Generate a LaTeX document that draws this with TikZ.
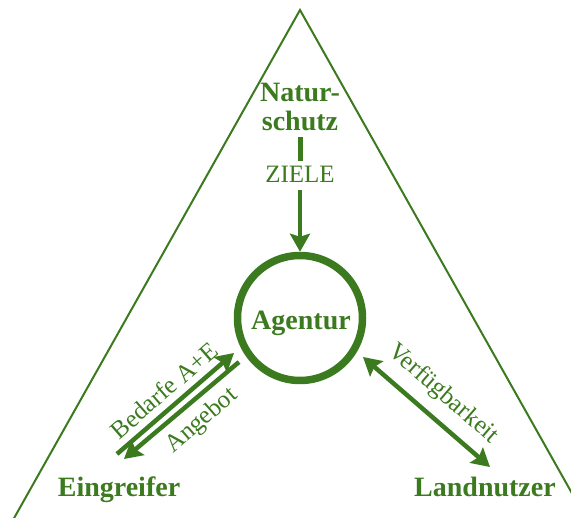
\documentclass[tikz,border=0pt]{standalone}
\usepackage{fontspec}
\setmainfont{Liberation Serif}
\usetikzlibrary{arrows.meta}
\definecolor{gr}{RGB}{59,122,30}
\begin{document}
\begin{tikzpicture}[x=1pt,y=-1pt,
  bold/.style={font=\fontsize{28}{29}\selectfont\bfseries, text=gr, align=center, inner sep=0},
  lab/.style={font=\fontsize{25}{25}\selectfont, text=gr, inner sep=0},
  arr/.style={draw=gr, line width=4.5pt, -{Stealth[length=18pt,width=20pt,inset=3pt]}},
  darr/.style={draw=gr, line width=4.5pt, {Stealth[length=18pt,width=20pt,inset=3pt]}-{Stealth[length=18pt,width=20pt,inset=3pt]}}]
\useasboundingbox (0,0) rectangle (571,518);
\clip (0,0) rectangle (571,518);
\coordinate (apex) at (300,10);
\coordinate (bl) at (13,520);
\coordinate (br) at (587,520);
\draw[gr, line width=2pt] (bl) -- (apex) -- (br);
\node[bold, anchor=base] (nat1) at (300,102) {Natur-};
\node[bold, anchor=base] (nat2) at (300,131) {schutz};
\node[lab, anchor=base] (ziele) at (300,183) {ZIELE};
\node[circle, draw=gr, line width=7.5pt, minimum size=125pt, inner sep=0] (ag) at (300,318) {};
\node[bold, anchor=base] (agt) at (301,330) {Agentur};
\node[bold, anchor=base] (ein) at (119,497) {Eingreifer};
\node[bold, anchor=base] (land) at (485,497) {Landnutzer};
\coordinate (z1) at (300,137);
\coordinate (z2) at (300,161);
\draw[gr, line width=5pt] (z1) -- (z2);
\coordinate (a1) at (300,190);
\draw[arr] (a1) -- (ag.north);
\coordinate (b1) at (117,454);
\coordinate (b2) at (234,353);
\draw[arr] (b1) -- (b2);
\coordinate (c1) at (239,362);
\coordinate (c2) at (124,459);
\draw[arr] (c1) -- (c2);
\coordinate (d1) at (363,357);
\coordinate (d2) at (490,467);
\draw[darr] (d1) -- (d2);
\node[lab, rotate=41] (bed) at (164,390) {Bedarfe A+E};
\node[lab, rotate=41] (ang) at (202,421) {Angebot};
\node[lab, rotate=-41] (verf) at (443,394) {Verfügbarkeit};
\end{tikzpicture}
\end{document}
